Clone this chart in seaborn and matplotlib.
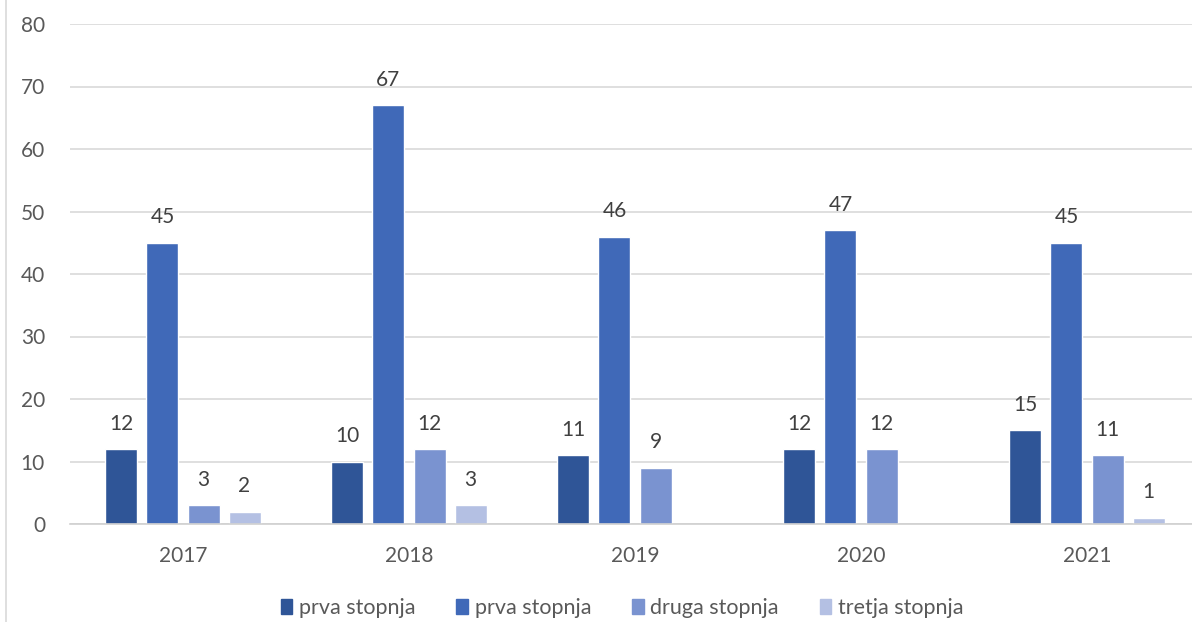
import numpy as np
import pandas as pd
import matplotlib
matplotlib.use("Agg")
import matplotlib.pyplot as plt
import seaborn as sns
from matplotlib.lines import Line2D

# Data
years = ["2017", "2018", "2019", "2020", "2021"]
series_keys = ["prva1", "prva2", "druga", "tretja"]
series_labels = ["prva stopnja", "prva stopnja", "druga stopnja", "tretja stopnja"]
prva1 = [12, 10, 11, 12, 15]
prva2 = [45, 67, 46, 47, 45]
druga = [3, 12, 9, 12, 11]
tretja = [2, 3, np.nan, np.nan, 1]
colors = ["#2F5597", "#4069B8", "#7A93D0", "#B4C0E3"]

sns.set_theme(style="white")
plt.rcParams["font.family"] = ["Lato", "DejaVu Sans"]

rows = []
for key, vals in zip(series_keys, [prva1, prva2, druga, tretja]):
    for y, v in zip(years, vals):
        rows.append({"leto": y, "serija": key, "vrednost": v})
df = pd.DataFrame(rows).dropna()

fig = plt.figure(figsize=(11.92, 6.22), dpi=100)
ax = fig.add_axes([70 / 1192, 1 - 524 / 622, 1130 / 1192, 500 / 622])

sns.barplot(data=df, x="leto", y="vrednost", hue="serija", order=years,
            hue_order=series_keys, palette=colors, width=0.726, gap=0.22,
            saturation=1, ax=ax, legend=False)

for c in ax.containers:
    ax.bar_label(c, padding=11, fontsize=15, color="#404040")

ax.set_ylim(0, 80)
ax.set_yticks(range(0, 81, 10))
ax.set_xlim(-0.5, 4.5)
ax.set_xlabel("")
ax.set_ylabel("")
ax.grid(axis="y", color="#D9D9D9", linewidth=1.2)
ax.set_axisbelow(True)
for s in ["top", "right", "left"]:
    ax.spines[s].set_visible(False)
ax.spines["bottom"].set_color("#D0D0D0")
ax.spines["bottom"].set_linewidth(1.2)
ax.tick_params(axis="y", length=0, pad=18, labelsize=15, labelcolor="#595959")
ax.tick_params(axis="x", length=0, pad=16, labelsize=15, labelcolor="#595959")

handles = [plt.Rectangle((0, 0), 1, 1, color=c) for c in colors]
fig.legend(handles, series_labels, loc="center", ncol=4, frameon=False,
           bbox_to_anchor=(622 / 1192, 1 - 608 / 622), fontsize=15.5,
           handlelength=0.55, handleheight=0.7, handletextpad=0.3,
           columnspacing=1.9, labelcolor="#595959")

# light border of the chart area on the left
fig.add_artist(Line2D([6 / 1192, 6 / 1192], [0, 1], color="#D9D9D9", lw=1.2))

fig.savefig("out.png", dpi=100)
